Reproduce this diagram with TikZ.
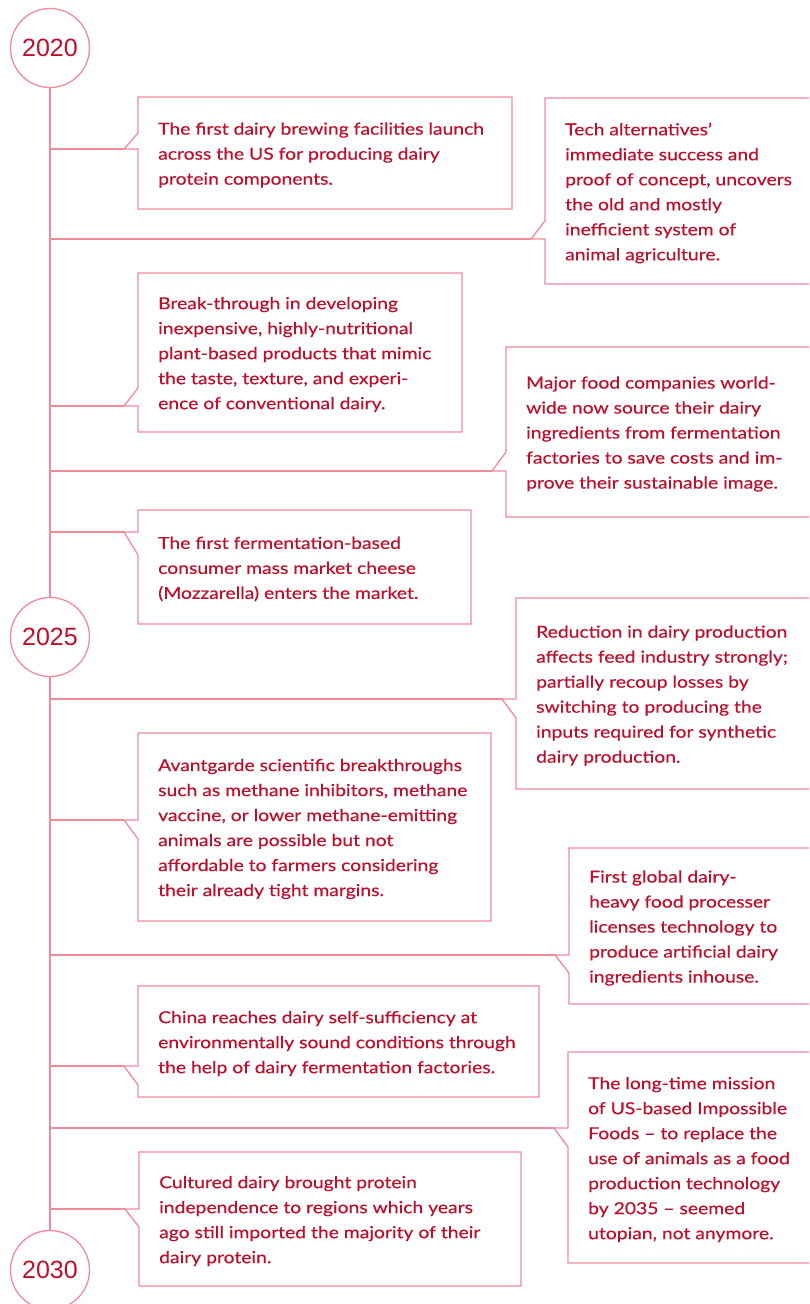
\documentclass[tikz,border=0pt]{standalone}
\usepackage{fontspec}
\setmainfont{Lato}[FakeStretch=1.17, FakeBold=0.4]
\newfontfamily\yearfont{Liberation Sans}
\definecolor{tlline}{HTML}{F28A9C}
\definecolor{tltext}{HTML}{BC102D}
\newcommand{\evbox}[8]{% name, left, top, right, bottom, lineY, pointerY, text
  \coordinate (#1-tip) at ({#2-14},#6);
  \coordinate (#1-j) at (50,#6);
  \draw[tlstroke] ({#2},{min(#6,#7)}) -- (#2,#3) -- (#4,#3) -- (#4,#5) -- (#2,#5)
     -- ({#2},{max(#6,#7)}) -- (#1-tip) -- cycle;
  \node[evtext] (#1) at ({#2+20},{(#3+#5)/2+2}) {#8};
  \draw[tlstroke] (#1-j) -- (#1-tip);
}
\begin{document}
\begin{tikzpicture}[x=1pt,y=-1pt,
  tlstroke/.style={draw=tlline, line width=1.3pt, line join=miter},
  evtext/.style={anchor=west, align=left, text=tltext, inner sep=0pt,
    font=\fontsize{16.5}{25}\selectfont},
  yearnode/.style={circle, draw=tlline, line width=1.3pt, minimum size=79pt,
    inner sep=0pt, text=tltext, font=\yearfont\fontsize{25}{25}\selectfont}]
\useasboundingbox (0,0) rectangle (809,1304);
\clip (0,0) rectangle (809,1304);
\fill[white] (0,0) rectangle (809,1304);

\node[yearnode] (y2020) at (50,48) {2020};
\node[yearnode] (y2025) at (50,637) {2025};
\node[yearnode] (y2030) at (50,1270) {2030};
\draw[tlstroke] (y2020) -- (y2025);
\draw[tlstroke] (y2025) -- (y2030);

\evbox{e1}{138}{97}{512}{209}{149}{133}{The first dairy brewing facilities launch\\across the US for producing dairy\\protein components.}
\evbox{e2}{545}{98}{830}{284}{239}{221}{Tech alternatives’\\immediate success and\\proof of concept, uncovers\\the old and mostly\\inefficient system of\\animal agriculture.}
\evbox{e3}{138}{273}{462}{432}{406}{388}{Break-through in developing\\inexpensive, highly-nutritional\\plant-based products that mimic\\the taste, texture, and experi-\\ence of conventional dairy.}
\evbox{e4}{506}{347}{830}{517}{471}{452}{Major food companies world-\\wide now source their dairy\\ingredients from fermentation\\factories to save costs and im-\\prove their sustainable image.}
\evbox{e5}{138}{510}{471}{624}{532}{555}{The first fermentation-based\\consumer mass market cheese\\(Mozzarella) enters the market.}
\evbox{e6}{516}{598}{830}{789}{699}{718}{Reduction in dairy production\\affects feed industry strongly;\\partially recoup losses by\\switching to producing the\\inputs required for synthetic\\dairy production.}
\evbox{e7}{138}{733}{491}{921}{820}{839}{Avantgarde scientific breakthroughs\\such as methane inhibitors, methane\\vaccine, or lower methane-emitting\\animals are possible but not\\affordable to farmers considering\\their already tight margins.}
\evbox{e8}{569}{848}{830}{1004}{955}{973}{First global dairy-\\heavy food processer\\licenses technology to\\produce artificial dairy\\ingredients inhouse.}
\evbox{e9}{138}{986}{539}{1097}{1066}{1085}{China reaches dairy self-sufficiency at\\environmentally sound conditions through\\the help of dairy fermentation factories.}
\evbox{e10}{568}{1052}{830}{1263}{1128}{1147}{The long-time mission\\of US-based Impossible\\Foods – to replace the\\use of animals as a food\\production technology\\by 2035 – seemed\\utopian, not anymore.}
\evbox{e11}{139}{1152}{521}{1286}{1209}{1227}{Cultured dairy brought protein\\independence to regions which years\\ago still imported the majority of their\\dairy protein.}
\end{tikzpicture}
\end{document}
